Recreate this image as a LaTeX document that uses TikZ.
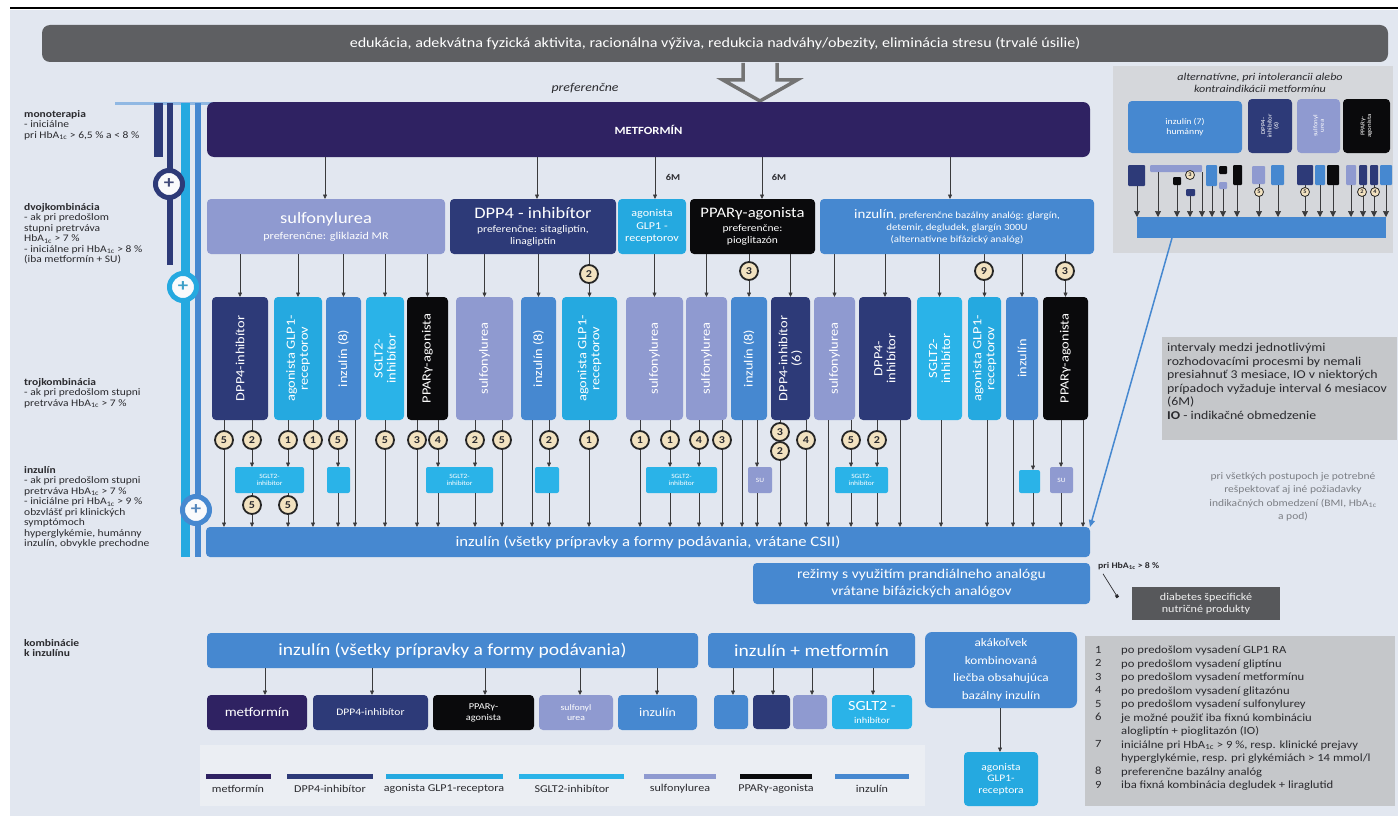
\documentclass[tikz,border=0pt]{standalone}
\usepackage{fontspec}
\setmainfont{Carlito}[FakeStretch=1.15]
\usetikzlibrary{arrows.meta}
\definecolor{bg}{HTML}{E2E7F0}
\definecolor{cBan}{HTML}{5E5F62}
\definecolor{cMet}{HTML}{2F2262}
\definecolor{cDpp}{HTML}{2D3A78}
\definecolor{cGlp}{HTML}{25A9E0}
\definecolor{cSglt}{HTML}{2AB3E8}
\definecolor{cSu}{HTML}{8F9AD0}
\definecolor{cIns}{HTML}{4688D0}
\definecolor{cPpar}{HTML}{0A0A0C}
\definecolor{cNum}{HTML}{F2E2C0}
\definecolor{cPanel}{HTML}{D5D7DB}
\definecolor{cInfo}{HTML}{C5C7CA}
\definecolor{cGrayTxt}{HTML}{7C7F85}
\definecolor{cDark}{HTML}{57585B}
\definecolor{cTxt}{HTML}{2A2A2E}
\definecolor{cLeg}{HTML}{EBEEF3}
\definecolor{cArr}{HTML}{3A3A3C}
\newcommand\fs[2]{\fontsize{#1}{#2}\selectfont}
\newcommand\hba{HbA\textsubscript{1c}}
\newcommand\Bx[7]{\node[#1,minimum width={(#4)-(#2)},minimum height={(#5)-(#3)}] (#6) at ({((#2)+(#4))/2},{((#3)+(#5))/2}) {#7};}
\newcommand\Vb[5]{\Bx{#1}{#2}{297}{#3}{420}{#4}{}\node[vt] (#4t) at (#4) {#5};}
\newcommand\Dn[3]{\coordinate (q) at (#1,0);\draw[arr] (q |- #2.south) -- (q |- #3.north);}
\newcommand\Dp[3]{\coordinate (q) at (#1,0);\draw[arrP] (q |- #2.south) -- (q |- #3.north);}
\newcommand\K[4]{\node[num] (#1) at (#2,#3) {#4};}
\newcommand\Ks[4]{\node[nums] (#1) at (#2,#3) {#4};}
\begin{document}
\begin{tikzpicture}[x=1pt,y=-1pt,
  box/.style={rounded corners=4pt, text=white, align=center, inner sep=0pt, outer sep=0pt},
  met/.style={box, fill=cMet},
  dpp/.style={box, fill=cDpp},
  glp/.style={box, fill=cGlp},
  sglt/.style={box, fill=cSglt},
  su/.style={box, fill=cSu},
  ins/.style={box, fill=cIns},
  ppar/.style={box, fill=cPpar},
  banner/.style={box, fill=cBan, rounded corners=8pt},
  panel/.style={fill=cPanel, inner sep=0pt},
  info/.style={fill=cInfo, inner sep=0pt},
  darkbox/.style={fill=cDark, text=white!90!gray, align=center, inner sep=0pt},
  legbg/.style={fill=cLeg, inner sep=0pt},
  vt/.style={rotate=90, text=white, align=center, font=\fs{12.5}{13}},
  vts/.style={rotate=90, text=white, align=center, font=\fs{6}{6.5}},
  sm/.style={rounded corners=2pt, font=\fs{6.5}{7}},
  tiny/.style={rounded corners=1pt},
  arr/.style={draw=cArr, line width=0.7pt, -{Triangle[length=4.5pt,width=4pt]}},
  arrP/.style={draw=cArr, line width=0.6pt, -{Triangle[length=6pt,width=6pt]}},
  num/.style={circle, draw=black!85, line width=1.8pt, fill=cNum, minimum size=18pt, inner sep=0pt, font=\fs{10.5}{10.5}\bfseries, text=cTxt},
  nums/.style={circle, draw=black!85, line width=0.8pt, fill=cNum, minimum size=9pt, inner sep=0pt, font=\fs{5.5}{6}\bfseries, text=cTxt},
  ring/.style={circle, draw=#1, line width=5pt, fill=white!80!bg, minimum size=27pt, inner sep=0pt, text=#1!75!gray, font=\fs{18}{18}\bfseries},
  lt/.style={font=\fs{10}{10.5}, text=cTxt, align=left, inner sep=0pt, anchor=north west},
  leg/.style={font=\fs{10.5}{11}, text=cTxt}
]
\useasboundingbox (0,0) rectangle (1398,816);
\fill[white] (0,0) rectangle (1398,816);
\fill[bg] (10,10) rectangle (1398,816);
\draw[line width=1.3pt] (10,8) -- (1398,8);

% banner and big arrow
\Bx{banner, font=\fs{14}{16}}{42}{25}{1388}{62}{ban}{edukácia, adekvátna fyzická aktivita, racionálna výživa, redukcia nadváhy/obezity, eliminácia stresu (trvalé úsilie)}
\draw[line width=3.5pt, draw=black!55, fill=bg, line join=miter] (743,63) -- (743,80) -- (723,80) -- (760,101) -- (797,80) -- (777,80) -- (777,63);
\node[font=\fs{12}{14}\itshape, text=cTxt] (pref) at (585,88) {preferenčne};

% left vertical lines
\draw[cIns!60!white, line width=3pt] (115,103) -- (313,103);
\fill[cDpp] (154,103) rectangle (163,157);
\draw[cDpp, line width=6pt] (170,103) -- (170,265);
\draw[cGlp, line width=9pt] (185,103) -- (185,557);
\draw[cIns, line width=6pt] (198,103) -- (198,557);
\node[ring=cDpp] (r1) at (169,184) {+};
\node[ring=cGlp] (r2) at (183,287) {+};
\node[ring=cIns] (r3) at (196,510) {+};

% left column texts
\node[lt] (t1) at (24,110) {\textbf{monoterapia}\\- iniciálne\\pri \hba{} > 6,5 \% a < 8 \%};
\node[lt] (t2) at (24,203) {\textbf{dvojkombinácia}\\- ak pri predošlom\\stupni pretrváva\\\hba{} > 7 \%\\- iniciálne pri \hba{} > 8 \%\\(iba metformín + SU)};
\node[lt] (t3) at (24,378) {\textbf{trojkombinácia}\\- ak pri predošlom stupni\\pretrváva \hba{} > 7 \%};
\node[lt] (t4) at (24,466) {\textbf{inzulín}\\- ak pri predošlom stupni\\pretrváva \hba{} > 7 \%\\- iniciálne pri \hba{} > 9 \%\\obzvlášť pri klinických\\symptómoch\\hyperglykémie, humánny\\inzulín, obvykle prechodne};
\node[lt] (t5) at (24,639) {\textbf{kombinácie}\\\textbf{k inzulínu}};

% metformin
\Bx{met, rounded corners=7pt, font=\fs{11}{12}\bfseries}{207}{102}{1090}{157}{met}{METFORMÍN}

% row 2
\Bx{su}{207}{199}{445}{254}{r2su}{{\fs{16}{18}sulfonylurea}\\[4pt]{\fs{10.5}{12}preferenčne: gliklazid MR}}
\Bx{dpp}{450}{199}{616}{254}{r2dpp}{{\fs{16}{17}DPP4 - inhibítor}\\[2pt]{\fs{10}{11}preferenčne: sitagliptín,}\\{\fs{10}{11}linagliptín}}
\Bx{glp, font=\fs{10.5}{12.5}}{618}{199}{686}{254}{r2glp}{agonista\\GLP1 -\\receptorov}
\Bx{ppar}{690}{199}{815}{254}{r2ppar}{{\fs{14.5}{16}PPARγ-agonista}\\[2pt]{\fs{10}{11}preferenčne:}\\{\fs{10}{11}pioglitazón}}
\Bx{ins}{820}{199}{1094}{254}{r2ins}{{\fs{13}{14}inzulín}{\fs{9.5}{12}, preferenčne bazálny analóg: glargín,}\\{\fs{9.5}{12}detemir, degludek, glargín 300U}\\{\fs{9.5}{12}(alternatívne bifázický analóg)}}

\Dn{325}{met}{r2su}
\Dn{537}{met}{r2dpp}
\Dn{655}{met}{r2glp}
\Dn{762}{met}{r2ppar}
\Dn{950}{met}{r2ins}
\node[font=\fs{9}{10}\bfseries, text=cTxt] (m6a) at (673,177) {6M};
\node[font=\fs{9}{10}\bfseries, text=cTxt] (m6b) at (779,177) {6M};

% row 3
\Vb{dpp}{212}{268}{c1}{DPP4-inhibítor}
\Vb{glp}{274}{322}{c2}{agonista GLP1-\\receptorov}
\Vb{ins}{326}{361}{c3}{inzulín (8)}
\Vb{sglt}{366}{404}{c4}{SGLT2-\\inhibítor}
\Vb{ppar}{407}{448}{c5}{PPARγ-agonista}
\Vb{su}{456}{513}{c6}{sulfonylurea}
\Vb{ins}{521}{556}{c7}{inzulín (8)}
\Vb{glp}{562}{617}{c8}{agonista GLP1-\\receptorov}
\Vb{su}{626}{683}{c9}{sulfonylurea}
\Vb{su}{686}{727}{c10}{sulfonylurea}
\Vb{ins}{731}{767}{c11}{inzulín (8)}
\Vb{dpp}{771}{810}{c12}{DPP4-inhibítor\\(6)}
\Vb{su}{814}{855}{c13}{sulfonylurea}
\Vb{dpp}{859}{911}{c14}{DPP4-\\inhibítor}
\Vb{sglt}{917}{962}{c15}{SGLT2-\\inhibítor}
\Vb{glp}{968}{1001}{c16}{agonista GLP1-\\receptorov}
\Vb{ins}{1006}{1038}{c17}{inzulín}
\Vb{ppar}{1043}{1088}{c18}{PPARγ-agonista}

\foreach \c in {c1,c2,c3,c4,c5} {\draw[arr] (\c.north |- r2su.south) -- (\c.north);}
\foreach \c in {c6,c7,c8} {\draw[arr] (\c.north |- r2dpp.south) -- (\c.north);}
\draw[arr] (c9.north |- r2glp.south) -- (c9.north);
\foreach \c in {c10,c11,c12} {\draw[arr] (\c.north |- r2ppar.south) -- (\c.north);}
\foreach \c in {c13,c14,c15,c16,c17,c18} {\draw[arr] (\c.north |- r2ins.south) -- (\c.north);}
\K{ka}{589}{274}{2}
\K{kb}{749}{271}{3}
\K{kc}{984}{271}{9}
\K{kd}{1065}{271}{3}

% small boxes
\Bx{sglt,sm}{235}{467}{304}{493}{s1}{SGLT2-\\inhibítor}
\Bx{sglt,sm}{327}{467}{350}{493}{s2}{}
\Bx{sglt,sm}{426}{467}{493}{493}{s3}{SGLT2-\\inhibítor}
\Bx{sglt,sm}{535}{467}{559}{493}{s4}{}
\Bx{sglt,sm}{646}{467}{717}{493}{s5}{SGLT2-\\inhibítor}
\Bx{su,sm}{748}{467}{772}{493}{s6}{SU}
\Bx{sglt,sm}{835}{467}{888}{493}{s7}{SGLT2-\\inhibítor}
\Bx{sglt,sm}{1019}{470}{1040}{493}{s8}{}
\Bx{su,sm}{1050}{467}{1073}{493}{s9}{SU}

% insulin bar
\Bx{ins, font=\fs{14.5}{16}}{206}{527}{1090}{557}{bar}{inzulín (všetky prípravky a formy podávania, vrátane CSII)}

% lower connectors
\Dn{224}{c1}{bar} \Dn{252}{c1}{s1} \Dn{288}{c2}{s1} \Dn{313}{c2}{bar}
\Dn{252}{s1}{bar} \Dn{288}{s1}{bar}
\Dn{338}{c3}{s2} \Dn{338}{s2}{bar} \Dn{355}{c3}{bar}
\Dn{385}{c4}{bar} \Dn{417}{c5}{bar}
\Dn{438}{c5}{s3} \Dn{475}{c6}{s3} \Dn{438}{s3}{bar} \Dn{475}{s3}{bar}
\Dn{502}{c6}{bar} \Dn{532}{c7}{bar} \Dn{549}{c7}{s4} \Dn{549}{s4}{bar}
\Dn{589}{c8}{bar} \Dn{640}{c9}{bar}
\Dn{670}{c9}{s5} \Dn{699}{c10}{s5} \Dn{670}{s5}{bar} \Dn{699}{s5}{bar}
\Dn{722}{c10}{bar} \Dn{742}{c11}{bar} \Dn{757}{c11}{s6} \Dn{757}{s6}{bar}
\Dn{780}{c12}{bar} \Dn{806}{c12}{bar} \Dn{828}{c13}{bar}
\Dn{851}{c13}{s7} \Dn{877}{c14}{s7} \Dn{851}{s7}{bar} \Dn{877}{s7}{bar}
\Dn{900}{c14}{bar} \Dn{941}{c15}{bar} \Dn{987}{c16}{bar} \Dn{1013}{c17}{bar}
\Dn{1033}{c17}{s8} \Dn{1033}{s8}{bar} \Dn{1061}{c18}{s9} \Dn{1061}{s9}{bar} \Dn{1083}{c18}{bar}

\K{k1}{224}{440}{5} \K{k2}{252}{440}{2} \K{k3}{288}{440}{1} \K{k4}{313}{440}{1}
\K{k5}{252}{505}{5} \K{k6}{288}{505}{5} \K{k7}{338}{440}{5} \K{k8}{385}{440}{5}
\K{k9}{417}{440}{3} \K{k10}{438}{440}{4} \K{k11}{475}{440}{2} \K{k12}{502}{440}{5}
\K{k13}{549}{440}{2} \K{k14}{589}{440}{1} \K{k15}{640}{440}{1} \K{k16}{670}{440}{1}
\K{k17}{699}{440}{4} \K{k18}{722}{440}{3} \K{k19}{780}{432}{3} \K{k20}{780}{451}{2}
\K{k21}{806}{440}{4} \K{k22}{851}{440}{5} \K{k23}{877}{440}{2}

% rezimy
\Bx{ins, font=\fs{13.5}{17}}{753}{563}{1090}{604}{rez}{režimy s využitím prandiálneho analógu\\vrátane bifázických analógov}

% right top panel
\Bx{panel}{1113}{66}{1393}{253}{rp}{}
\node[font=\fs{10.5}{12}\itshape, text=cTxt, align=center] (rpt) at (1260,83) {alternatívne, pri intolerancii alebo\\kontraindikácii metformínu};
\Bx{ins, font=\fs{8.5}{10}}{1128}{101}{1242}{153}{rp1}{inzulín (7)\\humánny}
\Bx{dpp}{1248}{99}{1292}{153}{rp2}{}
\node[vts] (rp2t) at (rp2) {DPP4-\\inhibítor\\(6)};
\Bx{su}{1297}{99}{1340}{153}{rp3}{}
\node[vts] (rp3t) at (rp3) {sulfonyl\\urea};
\Bx{ppar}{1343}{99}{1390}{153}{rp4}{}
\node[vts] (rp4t) at (rp4) {PPARγ-\\agonista};
\Bx{ins, rounded corners=0pt}{1137}{217}{1386}{238}{rb}{}

\Bx{dpp,tiny}{1128}{165}{1145}{186}{p1}{}
\Bx{su,tiny}{1150}{165}{1202}{172}{p2}{}
\Bx{ppar,tiny}{1173}{177}{1181}{185}{p3}{}
\Bx{dpp,tiny}{1186}{189}{1195}{196}{p4}{}
\Bx{ins,tiny}{1206}{165}{1217}{186}{p5}{}
\Bx{ppar,tiny}{1219}{166}{1227}{174}{p6}{}
\Bx{su,tiny}{1219}{182}{1227}{189}{p7}{}
\Bx{ppar,tiny}{1233}{165}{1242}{185}{p8}{}
\Bx{su,tiny}{1252}{166}{1265}{184}{p9}{}
\Bx{ins,tiny}{1271}{165}{1284}{185}{p10}{}
\Bx{dpp,tiny}{1297}{165}{1313}{185}{p11}{}
\Bx{ins,tiny}{1315}{165}{1325}{185}{p12}{}
\Bx{ppar,tiny}{1327}{165}{1339}{185}{p13}{}
\Bx{su,tiny}{1346}{165}{1356}{185}{p14}{}
\Bx{dpp,tiny}{1359}{165}{1367}{185}{p15}{}
\Bx{dpp,tiny}{1370}{165}{1378}{185}{p16}{}
\Bx{ins,tiny}{1380}{165}{1392}{185}{p17}{}
\Dp{1137}{p1}{rb} \Dp{1158}{p2}{rb} \Dp{1177}{p3}{rb} \Dp{1190}{p4}{rb}
\Dp{1202}{p2}{rb} \Dp{1212}{p5}{rb} \Dp{1223}{p7}{rb} \Dp{1237}{p8}{rb}
\Dp{1259}{p9}{rb} \Dp{1278}{p10}{rb} \Dp{1305}{p11}{rb} \Dp{1320}{p12}{rb}
\Dp{1333}{p13}{rb} \Dp{1351}{p14}{rb} \Dp{1363}{p15}{rb} \Dp{1374}{p16}{rb} \Dp{1386}{p17}{rb}
\Ks{q1}{1190}{175}{3} \Ks{q2}{1259}{192}{5} \Ks{q3}{1305}{192}{5}
\Ks{q4}{1362}{192}{2} \Ks{q5}{1375}{192}{4}
\draw[draw=cIns, line width=1.5pt, -{Triangle[length=7pt,width=6pt]}] (1172,0 |- rb.south) -- (bar.north east);

% info box
\Bx{info}{1162}{337}{1397}{440}{ib}{}
\node[anchor=north west, font=\fs{12}{13.6}, text=cTxt, align=left, inner sep=0pt] (ibt) at (1167,343) {intervaly medzi jednotlivými\\rozhodovacími procesmi by nemali\\presiahnuť 3 mesiace, IO v niektorých\\prípadoch vyžaduje interval 6 mesiacov\\(6M)\\\textbf{IO} - indikačné obmedzenie};
\node[font=\fs{10}{13.5}, text=cGrayTxt, align=center] (gt) at (1293,497) {pri všetkých postupoch je potrebné\\rešpektovať aj iné požiadavky\\indikačných obmedzení (BMI, \hba\\a pod)};

\node[anchor=west, font=\fs{8.5}{10}\bfseries, text=cTxt, inner sep=0pt] (p8t) at (1098,566) {pri \hba{} > 8 \%};
\Bx{darkbox, font=\fs{10.5}{12.5}}{1132}{587}{1280}{620}{dn}{diabetes špecifické\\nutričné produkty}
\draw[draw=cTxt, line width=0.7pt, -{Square[length=3pt,width=3pt]}] ([xshift=5pt,yshift=-4pt]p8t.south west) -- ([xshift=-14pt,yshift=6pt]dn.west);

% numbered list
\Bx{info}{1085}{636}{1395}{806}{nl}{}
\node[anchor=north west, font=\fs{11}{13.5}, text=cTxt, align=left, inner sep=0pt] (nln) at (1095,646) {1\\2\\3\\4\\5\\6\\\mbox{}\\7\\\mbox{}\\8\\9};
\node[anchor=north west, font=\fs{11}{13.5}, text=cTxt, align=left, inner sep=0pt] (nlt) at (1121,646) {po predošlom vysadení GLP1 RA\\po predošlom vysadení gliptínu\\po predošlom vysadení metformínu\\po predošlom vysadení glitazónu\\po predošlom vysadení sulfonylurey\\je možné použiť iba fixnú kombináciu\\alogliptín + pioglitazón (IO)\\iniciálne pri \hba{} > 9 \%, resp. klinické prejavy\\hyperglykémie, resp. pri glykémiách > 14 mmol/l\\preferenčne bazálny analóg\\iba fixná kombinácia degludek + liraglutid};

% bottom section
\Bx{legbg}{200}{745}{925}{806}{lgb}{}
\Bx{ins, font=\fs{17}{19}}{207}{633}{698}{668}{bi}{inzulín (všetky prípravky a formy podávania)}
\Bx{ins, font=\fs{17}{19}}{708}{633}{915}{668}{bm}{inzulín + metformín}
\Bx{ins, rounded corners=7pt, font=\fs{11.5}{17.5}}{925}{632}{1077}{708}{ba}{akákoľvek\\kombinovaná\\liečba obsahujúca\\bazálny inzulín}
\Bx{met, font=\fs{13}{14}}{207}{695}{307}{730}{b1}{metformín}
\Bx{dpp, font=\fs{10}{12}}{313}{695}{428}{730}{b2}{DPP4-inhibítor}
\Bx{ppar, font=\fs{9}{11}}{433}{695}{534}{730}{b3}{PPARγ-\\agonista}
\Bx{su, font=\fs{8.5}{10.5}}{539}{695}{613}{730}{b4}{sulfonyl\\urea}
\Bx{ins, font=\fs{12}{13}}{618}{695}{697}{730}{b5}{inzulín}
\Bx{ins}{714}{695}{748}{729}{m1}{}
\Bx{dpp}{753}{695}{790}{729}{m2}{}
\Bx{su}{793}{695}{827}{729}{m3}{}
\Bx{sglt}{832}{695}{912}{729}{m4}{{\fs{14}{14}SGLT2 -}\\[1pt]{\fs{9}{10}inhibítor}}
\Bx{glp, font=\fs{10}{11.5}}{964}{752}{1038}{806}{bg}{agonista\\GLP1-\\receptora}
\Dn{265}{bi}{b1} \Dn{372}{bi}{b2} \Dn{485}{bi}{b3} \Dn{580}{bi}{b4} \Dn{657}{bi}{b5}
\Dn{733}{bm}{m1} \Dn{773}{bm}{m2} \Dn{812}{bm}{m3} \Dn{873}{bm}{m4}
\Dn{1000}{ba}{bg}

% legend
\draw[cMet, line width=5pt] (206,776) -- (271,776);
\draw[cDpp, line width=5pt] (287,776) -- (373,776);
\draw[cGlp, line width=5pt] (386,776) -- (503,776);
\draw[cSglt, line width=5pt] (519,776) -- (624,776);
\draw[cSu, line width=5pt] (644,776) -- (716,776);
\draw[cPpar, line width=5pt] (740,776) -- (812,776);
\draw[cIns, line width=5pt] (835,776) -- (909,776);
\node[leg] (l1) at (238,789) {metformín};
\node[leg] (l2) at (330,789) {DPP4-inhibítor};
\node[leg] (l3) at (444,789) {agonista GLP1-receptora};
\node[leg] (l4) at (572,789) {SGLT2-inhibítor};
\node[leg] (l5) at (680,789) {sulfonylurea};
\node[leg] (l6) at (776,789) {PPARγ-agonista};
\node[leg] (l7) at (872,789) {inzulín};
\end{tikzpicture}
\end{document}
